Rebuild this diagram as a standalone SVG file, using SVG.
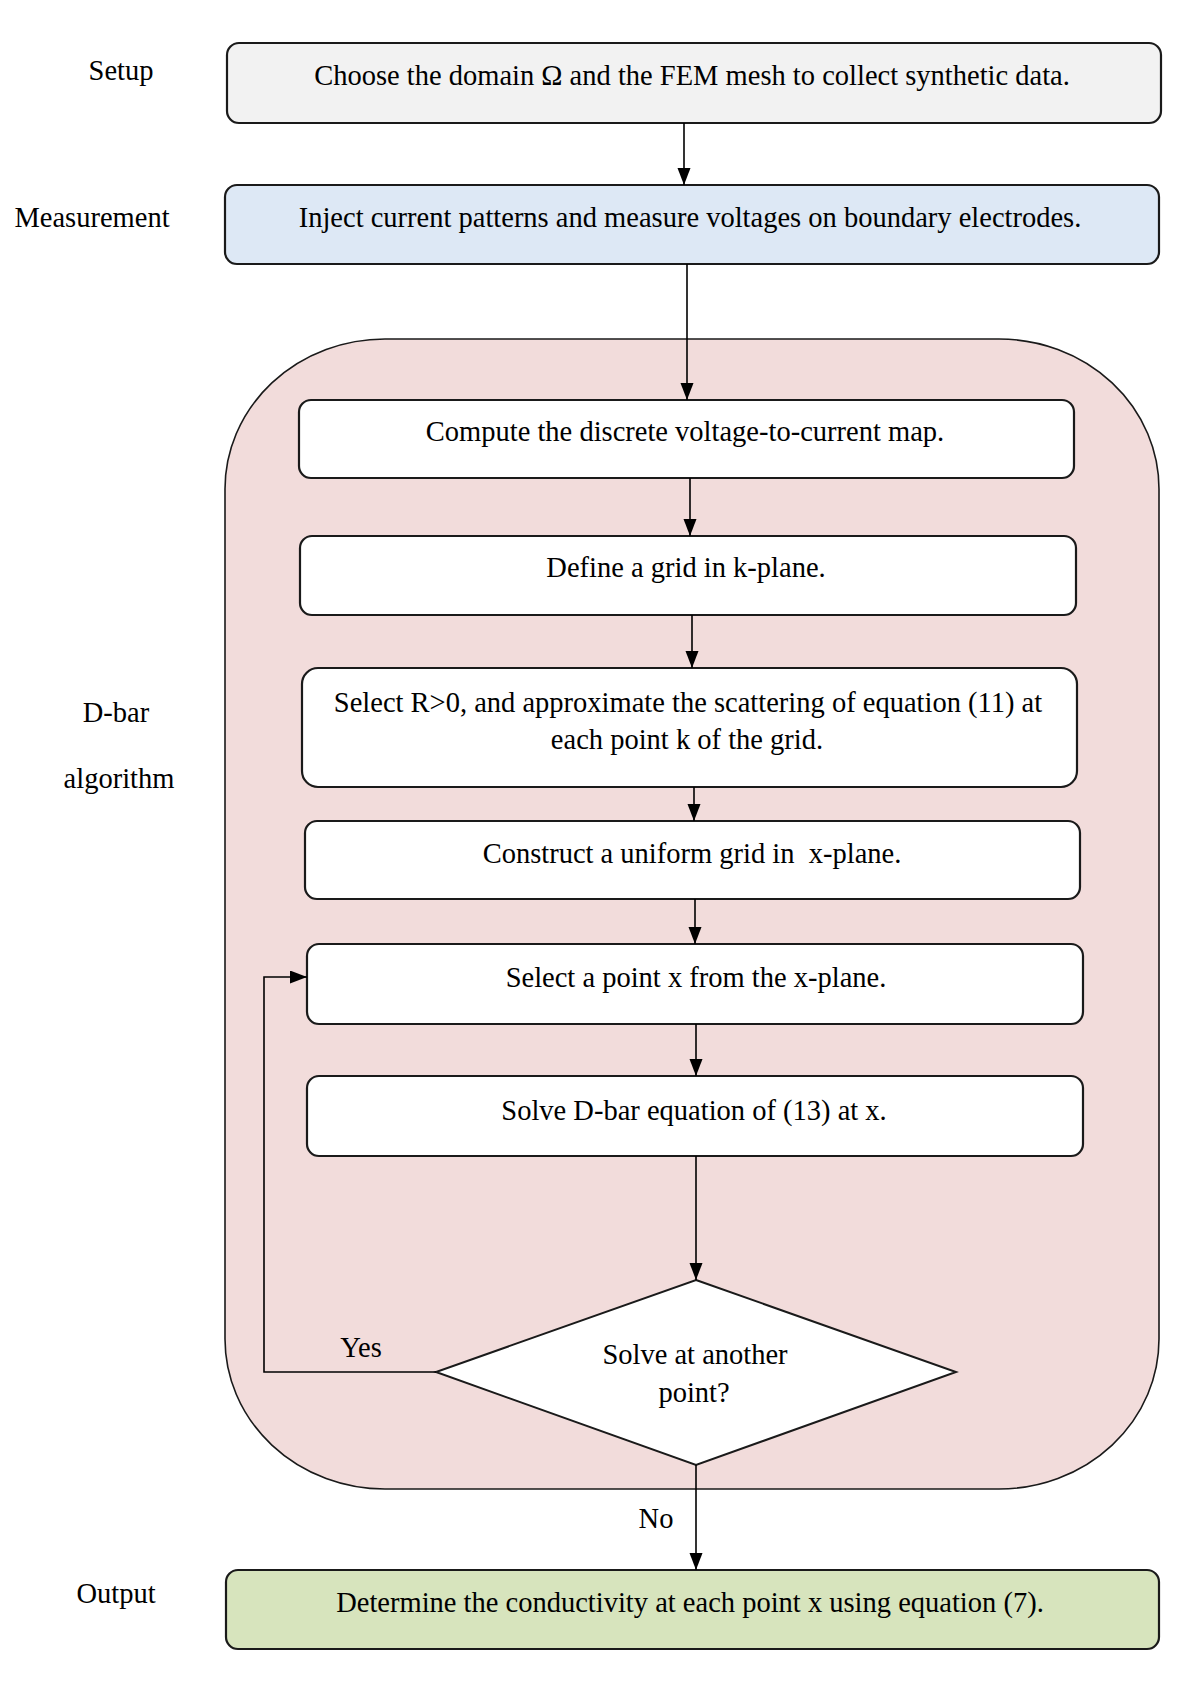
<svg xmlns="http://www.w3.org/2000/svg" width="1200" height="1700" viewBox="0 0 1200 1700">
<defs>
<marker id="ah" markerUnits="userSpaceOnUse" markerWidth="18" markerHeight="14" refX="17" refY="6.5" orient="auto">
<path d="M0,0 L17,6.5 L0,13 z" fill="#000"/>
</marker>
<style>
.box{stroke:#1a1a1a;stroke-width:2.2}
.t{font-family:"Liberation Serif","Times New Roman",serif;font-size:28.5px;fill:#000;text-anchor:middle}
.lbl{font-family:"Liberation Serif","Times New Roman",serif;font-size:28.5px;fill:#000;text-anchor:middle}
.c{stroke:#000;stroke-width:1.6;fill:none}
</style>
</defs>
<rect width="1200" height="1700" fill="#fff"/>

<g id="labels">
<text class="lbl" x="121" y="80">Setup</text>
<text class="lbl" x="92" y="227">Measurement</text>
<text class="lbl" x="116" y="722">D-bar</text>
<text class="lbl" x="119" y="788">algorithm</text>
<text class="lbl" x="116" y="1603">Output</text>
</g>

<g id="dbar-container">
<rect x="225" y="339" width="934" height="1150" rx="160" ry="150" fill="#f2dcdb" stroke="#1a1a1a" stroke-width="1.6"/>
</g>

<g id="setup">
<rect class="box" x="227" y="43" width="934" height="80" rx="12" fill="#f2f2f2"/>
<text class="t" x="692" y="85">Choose the domain Ω and the FEM mesh to collect synthetic data.</text>
</g>

<g id="measurement">
<rect class="box" x="225" y="185" width="934" height="79" rx="12" fill="#dde8f5"/>
<text class="t" x="690" y="227">Inject current patterns and measure voltages on boundary electrodes.</text>
</g>

<g id="compute">
<rect class="box" x="299" y="400" width="775" height="78" rx="12" fill="#fff"/>
<text class="t" x="685" y="441">Compute the discrete voltage-to-current map.</text>
</g>

<g id="define">
<rect class="box" x="300" y="536" width="776" height="79" rx="12" fill="#fff"/>
<text class="t" x="686" y="577">Define a grid in k-plane.</text>
</g>

<g id="select-r">
<rect class="box" x="302" y="668" width="775" height="119" rx="16" fill="#fff"/>
<text class="t" x="688" y="712">Select R&gt;0, and approximate the scattering of equation (11) at</text>
<text class="t" x="687" y="749">each point k of the grid.</text>
</g>

<g id="construct">
<rect class="box" x="305" y="821" width="775" height="78" rx="12" fill="#fff"/>
<text class="t" x="692" y="863" xml:space="preserve">Construct a uniform grid in  x-plane.</text>
</g>

<g id="select-point">
<rect class="box" x="307" y="944" width="776" height="80" rx="12" fill="#fff"/>
<text class="t" x="696" y="987">Select a point x from the x-plane.</text>
</g>

<g id="solve">
<rect class="box" x="307" y="1076" width="776" height="80" rx="12" fill="#fff"/>
<text class="t" x="694" y="1120">Solve D-bar equation of (13) at x.</text>
</g>

<g id="decision">
<polygon points="696,1280 956,1372 696,1465 436,1372" fill="#fff" stroke="#1a1a1a" stroke-width="2"/>
<text class="t" x="695" y="1364">Solve at another</text>
<text class="t" x="694" y="1402">point?</text>
</g>

<g id="output">
<rect class="box" x="226" y="1570" width="933" height="79" rx="12" fill="#d7e4bd"/>
<text class="t" x="690" y="1612">Determine the conductivity at each point x using equation (7).</text>
</g>

<g id="connectors">
<line class="c" x1="684" y1="123" x2="684" y2="185" marker-end="url(#ah)"/>
<line class="c" x1="687" y1="264" x2="687" y2="400" marker-end="url(#ah)"/>
<line class="c" x1="690" y1="478" x2="690" y2="536" marker-end="url(#ah)"/>
<line class="c" x1="692" y1="615" x2="692" y2="668" marker-end="url(#ah)"/>
<line class="c" x1="694" y1="787" x2="694" y2="821" marker-end="url(#ah)"/>
<line class="c" x1="695" y1="899" x2="695" y2="944" marker-end="url(#ah)"/>
<line class="c" x1="696" y1="1024" x2="696" y2="1076" marker-end="url(#ah)"/>
<line class="c" x1="696" y1="1156" x2="696" y2="1280" marker-end="url(#ah)"/>
<polyline class="c" points="436,1372 264,1372 264,977 307,977" marker-end="url(#ah)"/>
<line class="c" x1="696" y1="1465" x2="696" y2="1570" marker-end="url(#ah)"/>
<text class="lbl" x="361" y="1357">Yes</text>
<text class="lbl" x="656" y="1528">No</text>
</g>
</svg>
